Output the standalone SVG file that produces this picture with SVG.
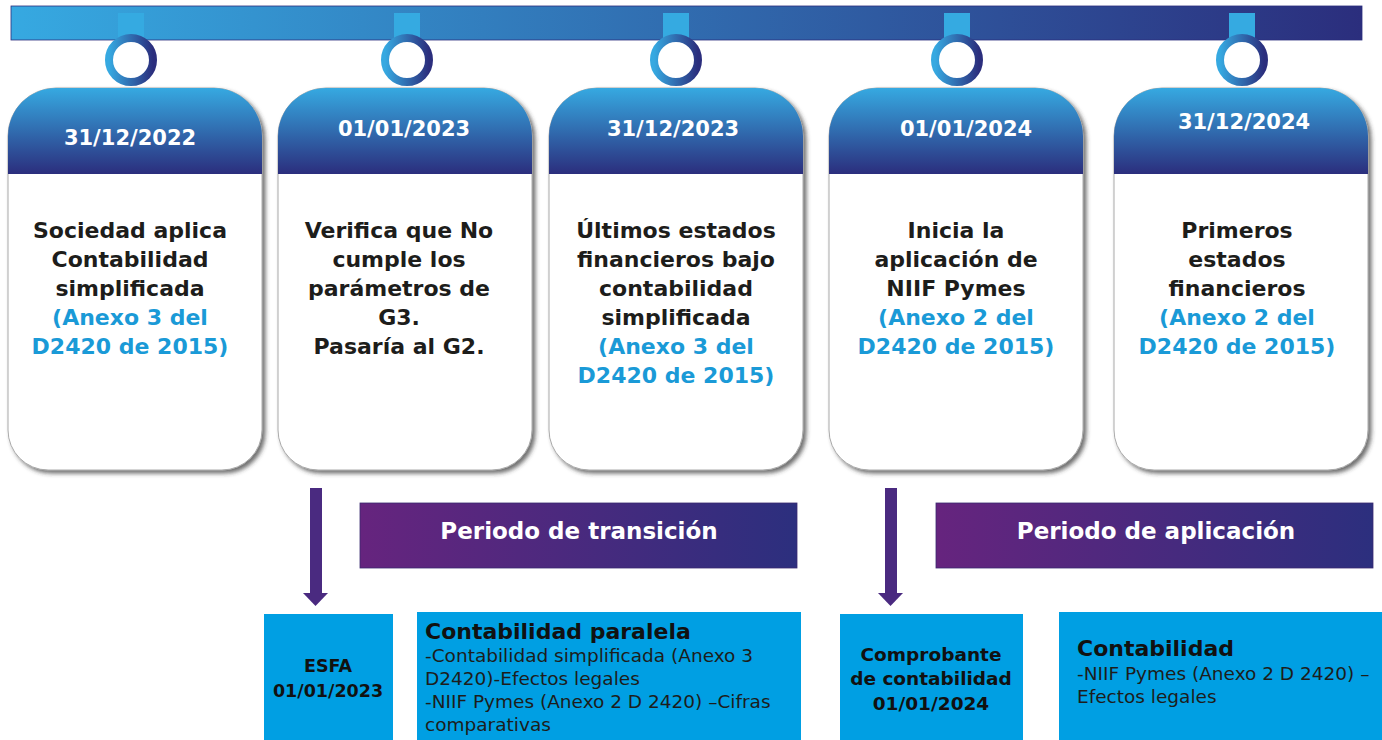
<svg xmlns="http://www.w3.org/2000/svg" width="1382" height="740" viewBox="0 0 1382 740">
<style>
.date{font-family:"DejaVu Sans","Liberation Sans",sans-serif;font-weight:700;font-size:21px;fill:#fff;text-anchor:middle}
.body{font-family:"DejaVu Sans","Liberation Sans",sans-serif;font-weight:700;font-size:22px;fill:#1d1d1b;text-anchor:middle}
.blue{fill:#1a9ad7}
.per{font-family:"DejaVu Sans","Liberation Sans",sans-serif;font-weight:700;font-size:23px;fill:#fff;text-anchor:middle}
.bb{font-family:"DejaVu Sans","Liberation Sans",sans-serif;font-weight:700;fill:#111}
.br{font-family:"DejaVu Sans","Liberation Sans",sans-serif;font-weight:400;font-size:18.5px;fill:#1d1d1b}
.box{fill:#009fe3}
.sq{fill:#35aae1}
.ring{fill:#fff;stroke:url(#gRing);stroke-width:8}
</style>
<defs>
<linearGradient id="gBar" x1="0" y1="0" x2="1" y2="0"><stop offset="0" stop-color="#36a9e1"/><stop offset="1" stop-color="#2b2e7d"/></linearGradient>
<linearGradient id="gRing" x1="0" y1="0" x2="1" y2="0"><stop offset="0" stop-color="#36a9e1"/><stop offset="1" stop-color="#2b2e7d"/></linearGradient>
<linearGradient id="gHead" x1="0" y1="0" x2="0" y2="1"><stop offset="0" stop-color="#36a9e1"/><stop offset="1" stop-color="#2b2e7d"/></linearGradient>
<linearGradient id="gPer" x1="0" y1="0" x2="1" y2="0"><stop offset="0" stop-color="#66247e"/><stop offset="1" stop-color="#2c2f7e"/></linearGradient>
<filter id="sh" x="-10%" y="-10%" width="125%" height="125%"><feDropShadow dx="3" dy="3" stdDeviation="2" flood-color="#333" flood-opacity="0.7"/></filter>
<path id="card" d="M0,136 A48,48 0 0 1 48,88 H206 A48,48 0 0 1 254,136 V430 A40,40 0 0 1 214,470 H40 A40,40 0 0 1 0,430 Z"/>
<path id="head" d="M0,174 V136 A48,48 0 0 1 48,88 H206 A48,48 0 0 1 254,136 V174 Z"/>
</defs>

<g id="timeline">
<rect x="11" y="6" width="1351" height="34" fill="url(#gBar)" stroke="#2b2e7d" stroke-width="0.8"/>
<rect class="sq" x="118" y="13" width="26" height="27"/>
<rect class="sq" x="394" y="13" width="26" height="27"/>
<rect class="sq" x="663" y="13" width="26" height="27"/>
<rect class="sq" x="944" y="13" width="26" height="27"/>
<rect class="sq" x="1229" y="13" width="26" height="27"/>
<circle class="ring" cx="131" cy="60" r="22"/>
<circle class="ring" cx="407" cy="60" r="22"/>
<circle class="ring" cx="676" cy="60" r="22"/>
<circle class="ring" cx="957" cy="60" r="22"/>
<circle class="ring" cx="1242" cy="60" r="22"/>
</g>

<g id="card1" transform="translate(8,0)">
<use href="#card" fill="#fff" stroke="#aaa" stroke-width="1" filter="url(#sh)"/>
<use href="#head" fill="url(#gHead)"/>
<text class="date" x="122" y="145">31/12/2022</text>
<text class="body" x="122" y="238">Sociedad aplica</text>
<text class="body" x="122" y="267">Contabilidad</text>
<text class="body" x="122" y="296">simplificada</text>
<text class="body blue" x="122" y="325">(Anexo 3 del</text>
<text class="body blue" x="122" y="354">D2420 de 2015)</text>
</g>

<g id="card2" transform="translate(278,0)">
<use href="#card" fill="#fff" stroke="#aaa" stroke-width="1" filter="url(#sh)"/>
<use href="#head" fill="url(#gHead)"/>
<text class="date" x="126" y="136">01/01/2023</text>
<text class="body" x="121" y="238">Verifica que No</text>
<text class="body" x="121" y="267">cumple los</text>
<text class="body" x="121" y="296">parámetros de</text>
<text class="body" x="121" y="325">G3.</text>
<text class="body" x="121" y="354">Pasaría al G2.</text>
</g>

<g id="card3" transform="translate(549,0)">
<use href="#card" fill="#fff" stroke="#aaa" stroke-width="1" filter="url(#sh)"/>
<use href="#head" fill="url(#gHead)"/>
<text class="date" x="124" y="136">31/12/2023</text>
<text class="body" x="127" y="238">Últimos estados</text>
<text class="body" x="127" y="267">financieros bajo</text>
<text class="body" x="127" y="296">contabilidad</text>
<text class="body" x="127" y="325">simplificada</text>
<text class="body blue" x="127" y="354">(Anexo 3 del</text>
<text class="body blue" x="127" y="383">D2420 de 2015)</text>
</g>

<g id="card4" transform="translate(829,0)">
<use href="#card" fill="#fff" stroke="#aaa" stroke-width="1" filter="url(#sh)"/>
<use href="#head" fill="url(#gHead)"/>
<text class="date" x="137" y="136">01/01/2024</text>
<text class="body" x="127" y="238">Inicia la</text>
<text class="body" x="127" y="267">aplicación de</text>
<text class="body" x="127" y="296">NIIF Pymes</text>
<text class="body blue" x="127" y="325">(Anexo 2 del</text>
<text class="body blue" x="127" y="354">D2420 de 2015)</text>
</g>

<g id="card5" transform="translate(1114,0)">
<use href="#card" fill="#fff" stroke="#aaa" stroke-width="1" filter="url(#sh)"/>
<use href="#head" fill="url(#gHead)"/>
<text class="date" x="130" y="129">31/12/2024</text>
<text class="body" x="123" y="238">Primeros</text>
<text class="body" x="123" y="267">estados</text>
<text class="body" x="123" y="296">financieros</text>
<text class="body blue" x="123" y="325">(Anexo 2 del</text>
<text class="body blue" x="123" y="354">D2420 de 2015)</text>
</g>

<g id="connectors">
<rect x="310" y="488" width="12" height="106" fill="#4a2a80"/>
<path d="M303,593 H328 L315.5,606 Z" fill="#4a2a80"/>
<rect x="885" y="488" width="12" height="106" fill="#4a2a80"/>
<path d="M878,593 H903 L890.5,606 Z" fill="#4a2a80"/>
</g>

<g id="periodo-transicion">
<rect x="360" y="503" width="437" height="65" fill="url(#gPer)" stroke="#3a2a70" stroke-width="0.8"/>
<text class="per" x="579" y="539">Periodo de transición</text>
</g>

<g id="periodo-aplicacion">
<rect x="936" y="503" width="437" height="65" fill="url(#gPer)" stroke="#3a2a70" stroke-width="0.8"/>
<text class="per" x="1156" y="539">Periodo de aplicación</text>
</g>

<g id="esfa">
<rect class="box" x="264" y="614" width="129" height="126"/>
<text class="bb" x="328" y="672" font-size="17.5" text-anchor="middle">ESFA</text>
<text class="bb" x="328" y="697" font-size="17.5" text-anchor="middle">01/01/2023</text>
</g>

<g id="contabilidad-paralela">
<rect class="box" x="417" y="612" width="384" height="128"/>
<text class="bb" x="425" y="639" font-size="22">Contabilidad paralela</text>
<text class="br" x="425" y="662">-Contabilidad simplificada (Anexo 3</text>
<text class="br" x="425" y="685">D2420)-Efectos legales</text>
<text class="br" x="425" y="708">-NIIF Pymes (Anexo 2 D 2420) –Cifras</text>
<text class="br" x="425" y="731">comparativas</text>
</g>

<g id="comprobante">
<rect class="box" x="840" y="614" width="183" height="126"/>
<text class="bb" x="931" y="661" font-size="18.5" text-anchor="middle">Comprobante</text>
<text class="bb" x="931" y="685" font-size="18.5" text-anchor="middle">de contabilidad</text>
<text class="bb" x="931" y="710" font-size="18.5" text-anchor="middle">01/01/2024</text>
</g>

<g id="contabilidad">
<rect class="box" x="1059" y="612" width="323" height="128"/>
<text class="bb" x="1077" y="656" font-size="22">Contabilidad</text>
<text class="br" x="1077" y="680">-NIIF Pymes (Anexo 2 D 2420) –</text>
<text class="br" x="1077" y="703">Efectos legales</text>
</g>
</svg>
